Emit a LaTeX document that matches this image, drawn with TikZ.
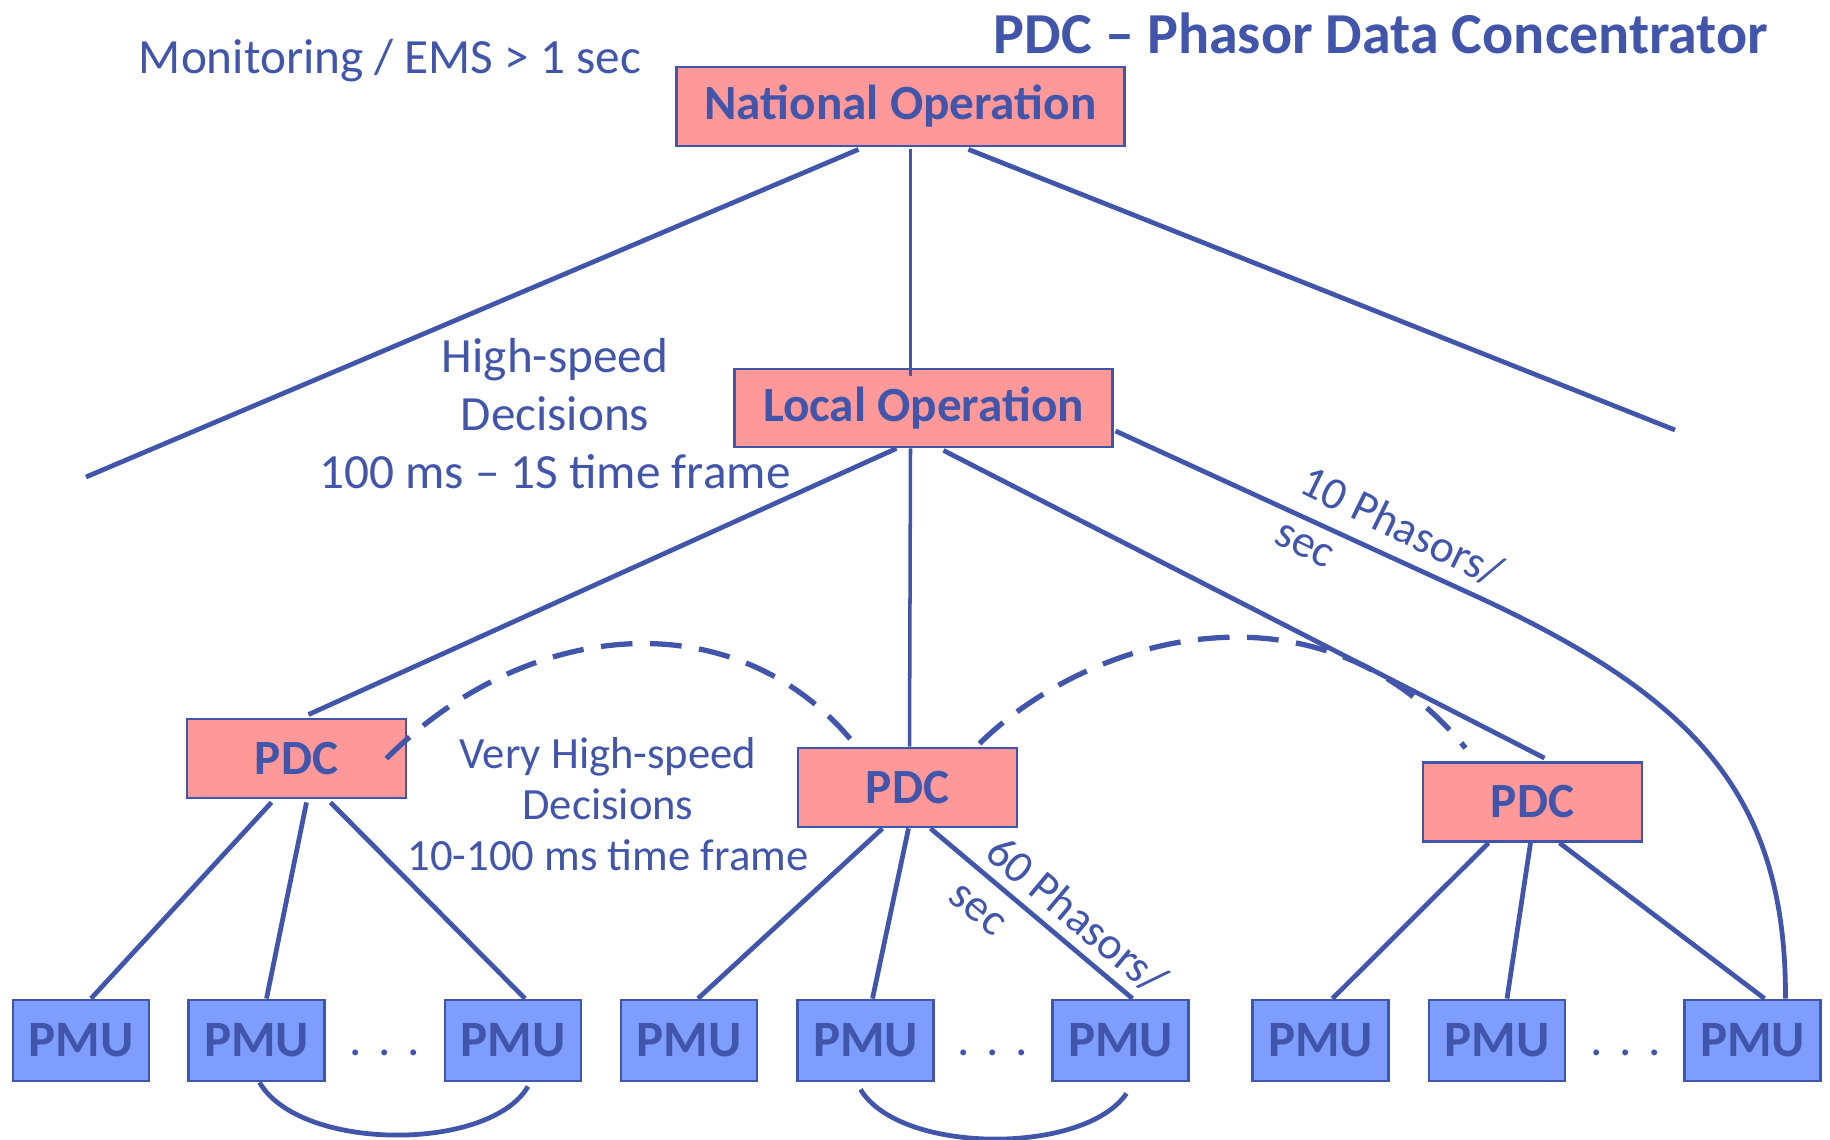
\documentclass[tikz,border=0pt]{standalone}
\usepackage{fontspec}
\setmainfont{Carlito}
\usepackage{xcolor}
\definecolor{pdcblue}{RGB}{65,85,170}
\definecolor{pdcred}{RGB}{255,153,153}
\definecolor{pmufill}{RGB}{125,158,255}
\usepackage{tikz}
\usetikzlibrary{calc}
\tikzset{
  opbox/.style={
    rectangle, draw=pdcblue, fill=pdcred, line width=0.8pt,
    inner sep=0pt, text=pdcblue,
    font=\fontsize{14}{16}\selectfont\bfseries
  },
  pdcbox/.style={opbox, minimum width=2.19cm, minimum height=0.79cm},
  pmubox/.style={
    rectangle, draw=pdcblue, fill=pmufill, line width=0.8pt,
    minimum width=1.36cm, minimum height=0.81cm, inner sep=0pt,
    text=pdcblue, font=\fontsize{14.5}{16}\selectfont\bfseries
  },
  note/.style={text=pdcblue, align=center, inner sep=0pt,
    font=\fontsize{14}{16.5}\selectfont},
  rate/.style={text=pdcblue, align=left, inner sep=0pt,
    font=\fontsize{13}{16}\selectfont},
  link/.style={draw=pdcblue, line width=1.35pt},
  thinlink/.style={draw=pdcblue, line width=1pt},
  peerlink/.style={draw=pdcblue, line width=1.5pt, dash pattern=on 9pt off 5pt},
}

\begin{document}
\begin{tikzpicture}[x=0.01cm, y=-0.01cm]
  \useasboundingbox (0,0) rectangle (1830,1140);

  % titles
  \node (title) [note, font=\fontsize{16.5}{18}\selectfont\bfseries] at (1381,33) {PDC -- Phasor Data Concentrator};
  \node (mon)   [note] at (390,61) {Monitoring / EMS > 1 sec};

  % operation levels
  \node (nat) [opbox, minimum width=4.47cm, minimum height=0.79cm] at (900.5,106.5) {National Operation};
  \node (loc) [opbox, minimum width=3.77cm, minimum height=0.78cm] at (923.5,408) {Local Operation};

  \node (pdcA) [pdcbox] at (296.5,758.5) {PDC};
  \node (pdcB) [pdcbox] at (907.5,787.5) {PDC};
  \node (pdcC) [pdcbox] at (1532.5,802)  {PDC};

  \foreach \n/\x in {1/81, 2/256.5, 3/513, 4/689, 5/865.5, 6/1120.5, 7/1320.5, 8/1497, 9/1752.5}
    \node (pmu\n) [pmubox] at (\x,1040.5) {PMU};

  \node (dotsA) [note] at (385,1053)  {.\,\,.\,\,.};
  \node (dotsB) [note] at (993,1053)  {.\,\,.\,\,.};
  \node (dotsC) [note] at (1626,1053) {.\,\,.\,\,.};

  % labels
  \node (hs)  [note] at (555,414) {High-speed\\Decisions\\100 ms -- 1S time frame};
  \node (vhs) [note, font=\fontsize{12.7}{14.5}\selectfont] at (608,804) {Very High-speed\\Decisions\\10-100 ms time frame};
  \node (ten)   [rate, rotate=-26] at (1390,551) {10 Phasors/\\sec};
  \node (sixty) [rate, rotate=-40] at (1059,936) {60 Phasors/\\sec};

  % national level
  \coordinate (natL) at (86,477);
  \coordinate (natR) at (1675,430);
  \draw [link] ($(nat.south)+(-42,2)$) -- (natL);
  \draw [link] ($(nat.south)+(68,2)$)  -- (natR);
  \draw [thinlink] ($(nat.south)+(10,2)$) -- ($(loc.north)+(-13,8)$);

  % local level
  \draw [link] ($(loc.south)+(-27,0)$) -- ($(pdcA.north)+(12,-3)$);
  \draw [thinlink] ($(loc.south)+(-13,0)$) -- ($(pdcB.north)+(2,0)$);
  \draw [link] ($(loc.south)+(20,2)$)  -- ($(pdcC.north)+(12,-3)$);
  \draw [link] ($(loc.east)+(2,23)$) -- (1480,598)
    .. controls (1700,700) and (1786,800) .. ($(pmu9.north)+(33,0)$);

  % pdc to pmu
  \draw [link] ($(pdcA.south)+(-25,3)$) -- ($(pmu1.north)+(10,0)$);
  \draw [link] ($(pdcA.south)+(10,3)$)  -- ($(pmu2.north)+(10,0)$);
  \draw [link] ($(pdcA.south)+(34,3)$)  -- ($(pmu3.north)+(12,0)$);
  \draw [link] ($(pdcB.south)+(-25,0)$) -- ($(pmu4.north)+(9,0)$);
  \draw [link] ($(pdcB.south)+(1,0)$)   -- ($(pmu5.north)+(7,0)$);
  \draw [link] ($(pdcB.south)+(23,0)$)  -- ($(pmu6.north)+(12,0)$);
  \draw [link] ($(pdcC.south)+(-44,0)$) -- ($(pmu7.north)+(12,0)$);
  \draw [link] ($(pdcC.south)+(-2,0)$)  -- ($(pmu8.north)+(10,0)$);
  \draw [link] ($(pdcC.south)+(27,0)$)  -- ($(pmu9.north)+(12,0)$);

  % peer links
  \draw [peerlink] ($(pdcA.east)+(-21,0)$) .. controls (530,615) and (740,600) .. ($(pdcB.north west)+(60,0)$);
  \draw [peerlink] ($(pdcB.north)+(72,-3)$) .. controls (1090,635) and (1320,570) .. ($(pdcC.north west)+(44,-13)$);
  \draw [link] ($(pmu2.south)+(3,0)$) .. controls (300,1152) and (490,1152) .. ($(pmu3.south)+(15,4)$);
  \draw [link] ($(pmu5.south)+(-5,7)$) .. controls (900,1155) and (1085,1155) .. ($(pmu6.south)+(6,11)$);
\end{tikzpicture}
\end{document}
